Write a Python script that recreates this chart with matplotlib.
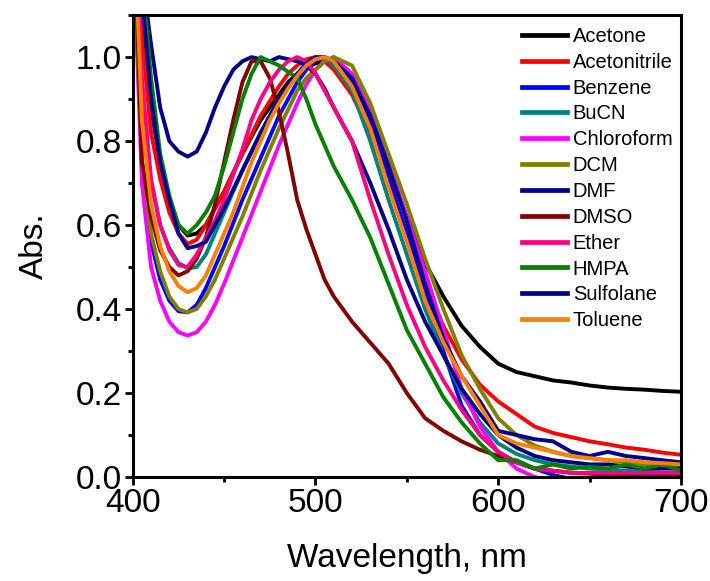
import numpy as np
import matplotlib
matplotlib.use("Agg")
import matplotlib.pyplot as plt
from matplotlib.ticker import MultipleLocator

plt.rcParams['font.family'] = ['Liberation Sans', 'DejaVu Sans']

# wavelength grid (nm)
wl = [400, 405, 410, 415, 420, 425, 430, 435, 440, 445, 450, 455, 460, 465, 470, 475,
      480, 485, 490, 495, 500, 505, 510, 520, 530, 540, 550, 560, 570, 580, 590, 600,
      610, 620, 630, 640, 650, 660, 670, 680, 690, 700]

acetone = [1.50, 1.10, 0.88, 0.75, 0.66, 0.60, 0.575, 0.58, 0.60, 0.64, 0.68, 0.725, 0.77, 0.81,
           0.85, 0.88, 0.91, 0.94, 0.96, 0.975, 0.985, 0.99, 0.98, 0.93, 0.84, 0.73, 0.62, 0.51,
           0.43, 0.36, 0.31, 0.27, 0.25, 0.24, 0.23, 0.225, 0.218, 0.213, 0.21, 0.208, 0.205, 0.203]
acetonitrile = [1.50, 1.05, 0.82, 0.71, 0.63, 0.58, 0.555, 0.565, 0.60, 0.64, 0.68, 0.725, 0.77,
                0.815, 0.86, 0.895, 0.93, 0.96, 0.98, 0.995, 1.0, 0.99, 0.97, 0.91, 0.82, 0.71,
                0.58, 0.46, 0.36, 0.28, 0.22, 0.18, 0.15, 0.12, 0.105, 0.095, 0.085, 0.078, 0.07,
                0.065, 0.058, 0.053]
benzene = [1.30, 0.75, 0.56, 0.47, 0.42, 0.395, 0.392, 0.41, 0.45, 0.50, 0.55, 0.605, 0.66, 0.71,
           0.76, 0.81, 0.86, 0.90, 0.94, 0.97, 0.99, 1.0, 0.99, 0.94, 0.84, 0.71, 0.58, 0.44,
           0.30, 0.17, 0.10, 0.06, 0.035, 0.02, 0.005, -0.005, -0.01, -0.01, -0.01, -0.01, -0.01, -0.01]
bucn = [1.40, 0.90, 0.70, 0.60, 0.545, 0.51, 0.497, 0.50, 0.53, 0.58, 0.63, 0.68, 0.73, 0.775,
        0.82, 0.86, 0.90, 0.93, 0.96, 0.98, 0.995, 1.0, 0.98, 0.92, 0.80, 0.66, 0.53, 0.40,
        0.29, 0.20, 0.13, 0.08, 0.055, 0.04, 0.03, 0.025, 0.02, 0.018, 0.015, 0.012, 0.01, 0.01]
chloroform = [1.30, 0.70, 0.50, 0.42, 0.37, 0.345, 0.337, 0.345, 0.37, 0.41, 0.46, 0.515, 0.57,
              0.625, 0.68, 0.735, 0.79, 0.84, 0.89, 0.935, 0.97, 0.99, 1.0, 0.96, 0.87, 0.75,
              0.62, 0.49, 0.35, 0.21, 0.12, 0.06, 0.02, 0.0, -0.01, -0.01, -0.01, -0.01, -0.01,
              -0.01, -0.01, -0.01]
dcm = [1.30, 0.76, 0.58, 0.49, 0.43, 0.40, 0.392, 0.40, 0.43, 0.47, 0.52, 0.57, 0.62, 0.675,
       0.73, 0.78, 0.83, 0.875, 0.92, 0.95, 0.97, 0.99, 1.0, 0.98, 0.89, 0.77, 0.65, 0.52,
       0.40, 0.29, 0.21, 0.14, 0.10, 0.075, 0.06, 0.05, 0.045, 0.04, 0.035, 0.03, 0.03, 0.025]
dmf = [1.50, 1.20, 1.03, 0.88, 0.80, 0.775, 0.763, 0.775, 0.82, 0.88, 0.93, 0.97, 0.99, 1.0,
       0.995, 0.99, 1.0, 0.995, 0.99, 0.98, 0.96, 0.925, 0.88, 0.80, 0.70, 0.59, 0.47, 0.37,
       0.29, 0.21, 0.15, 0.10, 0.07, 0.05, 0.04, 0.035, 0.03, 0.03, 0.025, 0.02, 0.02, 0.02]
dmso = [1.40, 0.75, 0.62, 0.54, 0.50, 0.48, 0.49, 0.52, 0.57, 0.65, 0.75, 0.85, 0.94, 0.99,
        0.99, 0.95, 0.87, 0.77, 0.66, 0.59, 0.53, 0.47, 0.43, 0.37, 0.32, 0.27, 0.20, 0.14,
        0.11, 0.085, 0.065, 0.05, 0.035, 0.02, 0.015, 0.01, 0.008, 0.005, 0.005, 0.005, 0.005, 0.005]
ether = [1.40, 0.95, 0.71, 0.60, 0.54, 0.505, 0.50, 0.53, 0.57, 0.61, 0.66, 0.72, 0.78, 0.85,
         0.90, 0.94, 0.97, 0.99, 1.0, 0.99, 0.96, 0.92, 0.88, 0.80, 0.66, 0.53, 0.41, 0.31,
         0.23, 0.16, 0.10, 0.06, 0.035, 0.02, 0.015, 0.01, 0.01, 0.01, 0.01, 0.01, 0.01, 0.01]
hmpa = [1.60, 1.20, 0.95, 0.77, 0.67, 0.60, 0.58, 0.60, 0.63, 0.67, 0.74, 0.82, 0.90, 0.96,
        1.0, 0.99, 0.98, 0.965, 0.95, 0.90, 0.84, 0.79, 0.74, 0.66, 0.57, 0.46, 0.35, 0.27,
        0.19, 0.13, 0.08, 0.04, 0.04, 0.02, 0.03, 0.02, 0.025, 0.02, 0.03, 0.02, 0.03, 0.015]
sulfolane = [1.60, 1.15, 0.90, 0.75, 0.66, 0.58, 0.545, 0.55, 0.56, 0.60, 0.64, 0.685, 0.73,
             0.775, 0.82, 0.86, 0.90, 0.93, 0.96, 0.985, 1.0, 1.0, 0.99, 0.95, 0.86, 0.74,
             0.61, 0.46, 0.33, 0.24, 0.18, 0.11, 0.10, 0.09, 0.085, 0.06, 0.05, 0.06, 0.05,
             0.045, 0.04, 0.035]
toluene = [1.40, 0.85, 0.65, 0.55, 0.49, 0.455, 0.44, 0.45, 0.48, 0.53, 0.58, 0.63, 0.69, 0.75,
           0.80, 0.85, 0.89, 0.925, 0.955, 0.98, 0.995, 1.0, 0.99, 0.93, 0.83, 0.69, 0.56, 0.42,
           0.32, 0.24, 0.17, 0.10, 0.08, 0.07, 0.06, 0.05, 0.045, 0.04, 0.04, 0.035, 0.033, 0.03]

solvents = ['Acetone', 'Acetonitrile', 'Benzene', 'BuCN', 'Chloroform', 'DCM',
            'DMF', 'DMSO', 'Ether', 'HMPA', 'Sulfolane', 'Toluene']
spectra = [acetone, acetonitrile, benzene, bucn, chloroform, dcm,
           dmf, dmso, ether, hmpa, sulfolane, toluene]
colors = ['#000000', '#FF0000', '#0000FF', '#008080', '#FF00FF', '#808000',
          '#000080', '#800000', '#FF0080', '#008000', '#000090', '#FF8000']

fig = plt.figure(figsize=(7.10, 5.81), dpi=100)
ax = fig.add_axes([0.187, 0.179, 0.772, 0.795])

for name, y, c in zip(solvents, spectra, colors):
    ax.plot(wl, y, color=c, lw=2.8, label=name)

ax.set_xlim(400, 700)
ax.set_ylim(0, 1.1)
ax.xaxis.set_major_locator(MultipleLocator(100))
ax.xaxis.set_minor_locator(MultipleLocator(50))
ax.yaxis.set_minor_locator(MultipleLocator(0.1))
ax.set_yticks(np.arange(0, 1.01, 0.2))
ax.yaxis.set_major_formatter(matplotlib.ticker.FormatStrFormatter('%.1f'))

for s in ax.spines.values():
    s.set_linewidth(2.2)
ax.tick_params(which='major', direction='out', length=6, width=2, labelsize=24, pad=2)
ax.tick_params(which='minor', direction='out', length=3.5, width=2)

ax.set_xlabel('Wavelength, nm', fontsize=24, labelpad=17)
ax.set_ylabel('Abs.', fontsize=24, labelpad=18)

leg = ax.legend(loc='upper left', bbox_to_anchor=(0.685, 1.005), frameon=False,
                fontsize=14.5, handlelength=2.2, handletextpad=0.3, labelspacing=0.34,
                borderaxespad=0.3)
for h in leg.get_lines():
    h.set_linewidth(3.4)

fig.savefig('out.png', dpi=100)
